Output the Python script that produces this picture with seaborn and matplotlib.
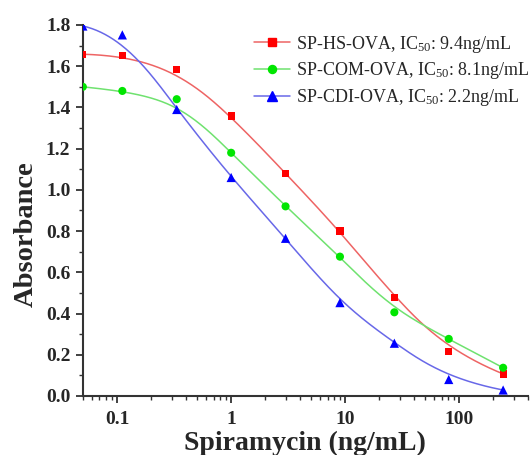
import numpy as np
import pandas as pd
import matplotlib
matplotlib.use("Agg")
import matplotlib.pyplot as plt
import seaborn as sns
from matplotlib.lines import Line2D
from matplotlib.ticker import MultipleLocator, FixedLocator, LogLocator, NullFormatter, FixedFormatter

# ---- data ----
conc = [0.05, 0.111, 0.333, 1, 3, 9, 27, 81, 243]
hs_ova = [1.658, 1.653, 1.585, 1.358, 1.08, 0.80, 0.477, 0.215, 0.107]
com_ova = [1.50, 1.48, 1.44, 1.18, 0.92, 0.676, 0.406, 0.277, 0.137]
cdi_ova = [1.795, 1.752, 1.39, 1.06, 0.765, 0.453, 0.256, 0.08, 0.029]
series_names = ["SP-HS-OVA", "SP-COM-OVA", "SP-CDI-OVA"]
ic50_labels = ["9.4", "8.1", "2.2"]
x_ticks = [0.1, 1, 10, 100]
x_ticklabels = ["0.1", "1", "10", "100"]

sns.set_theme(style="ticks")
plt.rcParams["font.family"] = ["Liberation Serif", "DejaVu Serif"]
plt.rcParams["mathtext.fontset"] = "custom"
plt.rcParams["mathtext.rm"] = "Liberation Serif"
plt.rcParams["mathtext.it"] = "Liberation Serif:italic"
plt.rcParams["mathtext.bf"] = "Liberation Serif:bold"


def bspline_curve(px, py, deg=3, num=600):
    """Clamped uniform B-spline using the data points as control points
    (the 'B-spline' connecting line of the original plotting software)."""
    px = np.asarray(px, float); py = np.asarray(py, float)
    n = len(px)
    inner = np.arange(1, n - deg)
    knots = np.concatenate([np.zeros(deg + 1), inner, np.full(deg + 1, n - deg)]).astype(float)
    t = np.linspace(0, n - deg, num)
    t[-1] -= 1e-9
    B = np.zeros((num, len(knots) - 1))
    for i in range(len(knots) - 1):
        B[:, i] = (t >= knots[i]) & (t < knots[i + 1])
    for d in range(1, deg + 1):
        nb = np.zeros((num, len(knots) - 1 - d))
        for i in range(len(knots) - 1 - d):
            d1 = knots[i + d] - knots[i]
            d2 = knots[i + d + 1] - knots[i + 1]
            term = np.zeros(num)
            if d1 > 0:
                term += (t - knots[i]) / d1 * B[:, i]
            if d2 > 0:
                term += (knots[i + d + 1] - t) / d2 * B[:, i + 1]
            nb[:, i] = term
        B = nb
    return B @ px, B @ py


fig = plt.figure(figsize=(5.31, 4.55), dpi=100)
ax = fig.add_axes([0.156, 0.1297, 0.838, 0.8154])

marker_cols = ["#ff0000", "#00e600", "#0000ff"]
line_cols = ["#ee6464", "#6fe26f", "#6868e8"]
markers = ["s", "o", "^"]
msizes = [27, 34, 44]
leg_ms = [5.2, 5.8, 6.6]
all_y = [hs_ova, com_ova, cdi_ova]

handles = []
for name, ic, ys, mc, lc, mk, ms, lms in zip(series_names, ic50_labels, all_y, marker_cols,
                                            line_cols, markers, msizes, leg_ms):
    lxs, lys = bspline_curve(np.log10(conc), ys)
    curve = pd.DataFrame({"x": 10 ** lxs, "y": lys})
    sns.lineplot(data=curve, x="x", y="y", ax=ax, color=lc, lw=1.1,
                 estimator=None, sort=False, legend=False)
    pts = pd.DataFrame({"x": conc, "y": ys})
    sns.scatterplot(data=pts, x="x", y="y", ax=ax, color=mc, marker=mk, s=ms,
                    edgecolor="none", legend=False, zorder=3)
    handles.append(Line2D([0], [0], color=lc, lw=1.1, marker=mk, markerfacecolor=mc,
                          markeredgecolor=mc, markersize=lms,
                          label=f"{name}, IC$_{{50}}$: {ic}ng/mL"))

ax.set_xscale("log")
ax.set_xlim(0.05, 400)
ax.set_ylim(0, 1.8)
ax.xaxis.set_major_locator(FixedLocator(x_ticks))
ax.xaxis.set_major_formatter(FixedFormatter(x_ticklabels))
ax.xaxis.set_minor_locator(LogLocator(base=10, subs=np.arange(2, 10)))
ax.xaxis.set_minor_formatter(NullFormatter())
ax.yaxis.set_minor_locator(MultipleLocator(0.1))
ax.set_yticks(np.arange(0, 1.81, 0.2))
ax.set_yticklabels([f"{v:.1f}" for v in np.arange(0, 1.81, 0.2)])

for side in ["top", "right"]:
    ax.spines[side].set_visible(False)
for side in ["left", "bottom"]:
    ax.spines[side].set_linewidth(1.5)
    ax.spines[side].set_color("#333333")
ax.tick_params(which="major", direction="out", length=5, width=1.3, color="#333333",
               labelsize=14)
ax.tick_params(axis="x", which="major", pad=5.5)
ax.tick_params(axis="y", which="major", pad=4)
ax.tick_params(which="minor", direction="out", length=3, width=1.0, color="#333333")
for lab in ax.get_xticklabels() + ax.get_yticklabels():
    lab.set_fontweight("bold")

ax.set_xlabel("Spiramycin (ng/mL)", fontsize=20, fontweight="bold", labelpad=2)
ax.set_ylabel("Absorbance", fontsize=20.5, fontweight="bold")
ax.yaxis.set_label_coords(-0.099, 0.437)

leg = ax.legend(handles=handles, loc="upper left",
                bbox_to_anchor=(247 / 531, 1 - 26.5 / 455), bbox_transform=fig.transFigure,
                frameon=False, fontsize=13, handlelength=2.0, handletextpad=0.33,
                labelspacing=0.31, borderaxespad=0.0)

fig.savefig("out.png", dpi=100)
